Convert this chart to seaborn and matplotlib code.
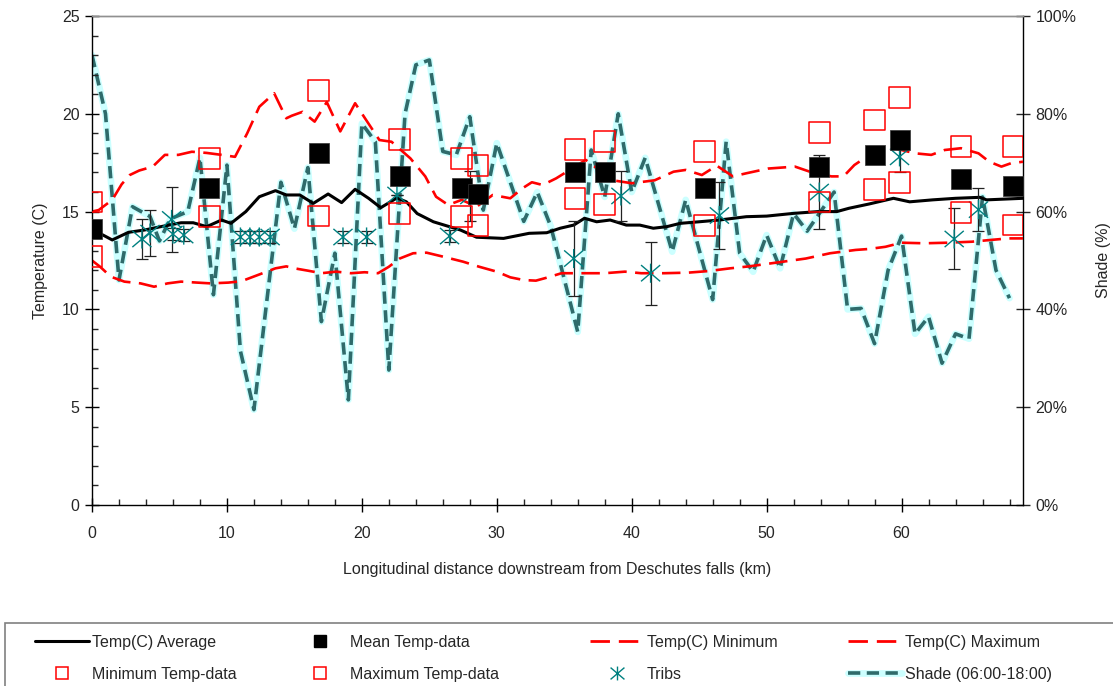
import matplotlib
matplotlib.use("Agg")
import matplotlib.pyplot as plt
import seaborn as sns
import pandas as pd
from matplotlib.ticker import MultipleLocator, PercentFormatter
from matplotlib.lines import Line2D
from matplotlib.patches import Rectangle
from matplotlib.path import Path

# Modelled daily average water temperature along the river (km, deg C)
avg_km = [0, 1.5, 2.7, 3.9, 5.1, 6.6, 7.5, 8.5, 9.6, 10.3, 11.4, 12.4, 13.6, 14.4, 15.4,
          16.4, 17.5, 18.5, 19.5, 20.5, 21.4, 22.6, 23.3, 24.1, 25.3, 27.3, 28.5, 30.5,
          32.4, 33.7, 34.7, 35.7, 36.5, 37.4, 38.4, 39.6, 40.6, 41.6, 42.6, 43.6, 45.0,
          46.5, 48.5, 50.0, 52.0, 53.8, 55.2, 56.1, 57.6, 59.4, 60.6, 62.3, 64.0, 65.8,
          66.3, 69]
avg_temp = [14.1, 13.55, 13.94, 14.06, 14.23, 14.43, 14.43, 14.23, 14.57, 14.4, 15.0,
            15.76, 16.07, 15.85, 15.85, 15.42, 15.9, 15.46, 16.14, 15.68, 15.2, 15.7,
            15.5, 14.9, 14.48, 14.06, 13.69, 13.63, 13.89, 13.92, 14.15, 14.31, 14.66,
            14.48, 14.57, 14.31, 14.31, 14.15, 14.23, 14.4, 14.48, 14.57, 14.74, 14.77,
            14.91, 15.0, 15.0, 15.17, 15.39, 15.68, 15.5, 15.6, 15.68, 15.73, 15.6, 15.68]

# Modelled daily minimum
min_km = [0, 0.6, 1.4, 2.4, 3.6, 4.6, 5.6, 6.6, 7.8, 8.8, 10.1, 10.8, 11.3, 12.3, 13.6,
          14.4, 15.0, 16.0, 17.0, 18.1, 19.2, 20.2, 21.2, 22.0, 22.8, 23.8, 24.8, 26.0,
          27.5, 28.7, 30.0, 31.0, 32.0, 32.9, 33.8, 34.8, 36.3, 38.0, 39.5, 40.7, 42.4,
          44.2, 45.7, 47.3, 48.7, 50.7, 52.9, 54.7, 56.6, 57.6, 58.8, 60.0, 61.7, 63.4,
          65.2, 66.6, 67.9, 69]
min_temp = [12.5, 12.18, 11.67, 11.42, 11.33, 11.16, 11.33, 11.42, 11.37, 11.33, 11.37,
            11.42, 11.5, 11.76, 12.1, 12.2, 12.1, 11.98, 11.85, 11.93, 11.85, 11.9,
            11.85, 12.18, 12.6, 12.87, 12.9, 12.7, 12.44, 12.18, 11.93, 11.64, 11.5,
            11.47, 11.64, 11.85, 11.85, 11.85, 11.93, 11.85, 11.85, 11.88, 11.96, 12.1,
            12.2, 12.39, 12.6, 12.87, 13.04, 13.09, 13.2, 13.41, 13.38, 13.41, 13.46,
            13.55, 13.63, 13.63]

# Modelled daily maximum
max_km = [0, 0.5, 1.5, 2.2, 2.8, 3.5, 4.5, 5.4, 6.4, 7.4, 8.5, 9.6, 10.6, 11.5, 12.4,
          13.5, 14.4, 14.8, 15.6, 16.5, 17.4, 18.4, 19.5, 20.3, 21.3, 22.2, 23.6, 24.7,
          25.5, 26.4, 27.4, 28.5, 29.7, 31.0, 31.9, 32.6, 33.4, 34.4, 36.6, 38.6, 40.0,
          41.7, 43.1, 44.0, 45.2, 46.3, 47.5, 48.5, 50.1, 52.1, 53.2, 54.8, 55.7, 56.5,
          57.4, 59.1, 61.0, 62.2, 63.2, 64.4, 65.7, 66.5, 67.4, 68.1, 69]
max_temp = [15.0, 15.08, 15.6, 16.4, 16.87, 17.1, 17.3, 17.9, 17.9, 18.06, 18.0, 17.9,
            17.8, 19.0, 20.36, 21.05, 19.77, 19.9, 20.1, 19.6, 20.6, 19.1, 20.54, 19.7,
            18.66, 18.57, 17.72, 16.8, 15.76, 15.34, 15.6, 15.25, 15.85, 15.68, 16.19,
            16.5, 16.36, 16.7, 17.64, 16.6, 16.45, 16.6, 17.04, 17.13, 16.87, 17.35,
            16.8, 16.96, 17.2, 17.3, 17.04, 16.8, 16.8, 17.38, 17.8, 18.3, 17.98, 17.9,
            18.15, 18.24, 17.98, 17.55, 17.3, 17.47, 17.55]

# Measured temperatures at logger sites
site_km = [0, 8.7, 16.8, 22.8, 27.4, 28.6, 35.8, 38.0, 45.4, 53.9, 58.0, 59.85, 64.4, 68.25]
site_mean = [14.1, 16.2, 18.0, 16.8, 16.2, 15.9, 17.0, 17.0, 16.2, 17.3, 17.9, 18.66,
             16.65, 16.33]
site_min = [12.7, 14.74, 14.77, 14.9, 14.74, 14.3, 15.68, 15.37, 14.28, 15.5, 16.14,
            16.48, 14.96, 14.31]
site_max = [15.5, 17.72, 21.2, 18.7, 17.72, 17.35, 18.18, 18.57, 18.06, 19.03, 19.68,
            20.84, 18.32, 18.32]

# Tributary inflow temperatures with their spread
trib_km = [3.7, 4.3, 5.9, 6.0, 6.8, 11.0, 11.7, 12.4, 13.2, 18.6, 20.35, 22.6, 26.5,
           28.0, 35.7, 39.2, 41.4, 46.5, 53.9, 59.85, 63.9, 65.7]
trib_temp = [13.6, 13.9, 14.6, 13.85, 13.8, 13.7, 13.7, 13.7, 13.7, 13.7, 13.7, 15.85,
             13.75, 15.8, 12.6, 15.8, 11.85, 14.8, 16.0, 17.8, 13.6, 15.1]
trib_err = [1.0, 1.16, 1.67, 0.3, 0.3, 0.3, 0.3, 0.3, 0.3, 0.3, 0.3, 0.0, 0.3, 1.27,
            1.9, 1.28, 1.62, 1.7, 1.9, 0.8, 1.56, 1.1]

# Effective shade, 06:00-18:00 (%)
shade_km = [0, 1, 2, 3, 4.3, 5, 5.8, 7.1, 8, 9, 10, 11, 12, 14, 15, 16, 17, 18, 19, 20,
            21, 22, 23.2, 24, 25, 26, 27, 28, 29, 30, 32, 33, 34, 36, 37, 38, 39, 40, 41,
            43, 44, 46, 47, 48, 49, 50, 51, 52, 53, 55, 56, 57, 58, 59, 60, 61, 62, 63,
            64, 65, 66, 67, 68]
shade_pct = [92, 80, 46, 61, 59, 54, 58.5, 60, 71, 43, 69.5, 31.5, 19.5, 66, 56.5, 69,
             37.5, 51.5, 21.5, 78, 74.3, 27.6, 80, 90, 91, 72.3, 71.6, 79.4, 60.3, 74,
             58, 64, 57, 35.4, 72.6, 63, 80, 64, 71, 51.8, 62.4, 42, 74.3, 51.5, 47.7,
             55.2, 48.4, 59.6, 56, 64, 40, 40.2, 33, 48, 55, 35, 38.5, 29, 35, 34, 63,
             48, 42.3]

sns.set_style("white")
plt.rcParams["font.family"] = ["Liberation Sans", "DejaVu Sans"]
plt.rcParams["font.size"] = 11

W, H = 1113, 686
fig = plt.figure(figsize=(W / 100, H / 100), dpi=100)
ax = fig.add_axes([92 / W, 1 - 505 / H, (1023 - 92) / W, (505 - 16) / H])
ax2 = ax.twinx()

RED = "#FF0000"
TEAL = "#008080"
SHADE_DARK = "#2F6B6B"
SHADE_LIGHT = "#CCFFFF"

red_dash = (0, (7.0, 3.2))
shade_dash = (0, (3.4, 1.8))

# Asterisk made of an X and a vertical stroke
star = Path([(-1, -0.85), (1, 0.85), (-1, 0.85), (1, -0.85), (0, -1), (0, 1)],
            [Path.MOVETO, Path.LINETO, Path.MOVETO, Path.LINETO, Path.MOVETO, Path.LINETO])

# Shade on the secondary axis (drawn underneath the temperature layer)
sns.lineplot(x=shade_km, y=shade_pct, ax=ax2, color=SHADE_LIGHT, lw=4.8,
             estimator=None, sort=False)
sns.lineplot(x=shade_km, y=shade_pct, ax=ax2, color=SHADE_DARK, lw=2.6,
             linestyle=shade_dash, estimator=None, sort=False)

# Temperature profiles
sns.lineplot(x=min_km, y=min_temp, ax=ax, color=RED, lw=1.9, linestyle=red_dash,
             estimator=None, sort=False)
sns.lineplot(x=max_km, y=max_temp, ax=ax, color=RED, lw=1.9, linestyle=red_dash,
             estimator=None, sort=False)
sns.lineplot(x=avg_km, y=avg_temp, ax=ax, color="black", lw=2.2,
             estimator=None, sort=False)

# Tributaries with error bars
ax.errorbar(trib_km, trib_temp, yerr=trib_err, fmt="none", ecolor="#222222",
            elinewidth=0.9, capsize=4, capthick=0.9, zorder=3)
sns.scatterplot(x=trib_km, y=trib_temp, ax=ax, marker=star, s=190,
                facecolor="none", edgecolor=TEAL, linewidth=1.0, zorder=4)

# Measured site data
sns.scatterplot(x=site_km, y=site_mean, ax=ax, marker="s", s=220, color="black",
                edgecolor="#333333", linewidth=0.5, zorder=5)
sns.scatterplot(x=site_km, y=site_min, ax=ax, marker="s", s=220, facecolor="none",
                edgecolor=RED, linewidth=1.1, zorder=5)
sns.scatterplot(x=site_km, y=site_max, ax=ax, marker="s", s=220, facecolor="none",
                edgecolor=RED, linewidth=1.1, zorder=5)

ax.set_zorder(ax2.get_zorder() + 1)
ax.patch.set_visible(False)

# Axes ranges and ticks
ax.set_xlim(0, 69)
ax.set_ylim(0, 25)
ax2.set_ylim(0, 100)
ax.xaxis.set_major_locator(MultipleLocator(10))
ax.xaxis.set_minor_locator(MultipleLocator(2))
ax.yaxis.set_major_locator(MultipleLocator(5))
ax.yaxis.set_minor_locator(MultipleLocator(1))
ax2.yaxis.set_major_locator(MultipleLocator(20))
ax2.yaxis.set_major_formatter(PercentFormatter(100, decimals=0))

ax.tick_params(which="major", direction="inout", length=10, width=1, pad=4,
               labelsize=11.5, color="black", left=True, bottom=True)
ax.tick_params(axis="x", which="major", pad=10)
ax.tick_params(which="minor", direction="in", length=4, width=1, left=True, bottom=True)
ax2.tick_params(axis="y", which="major", direction="inout", length=10, width=1, pad=4,
                labelsize=11.5, right=True)

for a in (ax, ax2):
    for s in a.spines.values():
        s.set_linewidth(1.0)
        s.set_color("black")
    a.spines["top"].set_color("#909090")
ax.spines["right"].set_visible(False)
ax2.spines["left"].set_visible(False)
ax2.spines["bottom"].set_visible(False)

ax.set_xlabel("Longitudinal distance downstream from Deschutes falls (km)", fontsize=11.5,
              labelpad=15)
ax.set_ylabel("Temperature (C)", fontsize=11.5, labelpad=10)
ax2.set_ylabel("Shade (%)", fontsize=11.5, labelpad=14)

# Legend: four columns inside a framed strip along the bottom
fig.patches.append(Rectangle((5 / W, -0.02), 1.2, (1 - 623 / H) + 0.02,
                             transform=fig.transFigure, fill=False,
                             edgecolor="#808080", lw=1.2))

h_avg = Line2D([], [], color="black", lw=2.2)
h_mean = Line2D([], [], color="black", marker="s", ms=8, ls="none")
h_minl = Line2D([], [], color=RED, lw=2.0, linestyle=red_dash)
h_maxl = Line2D([], [], color=RED, lw=2.0, linestyle=red_dash)
h_mind = Line2D([], [], color=RED, marker="s", ms=8, mfc="none", mew=1.1, ls="none")
h_maxd = Line2D([], [], color=RED, marker="s", ms=8, mfc="none", mew=1.1, ls="none")
h_trib = Line2D([], [], color=TEAL, marker=star, ms=10, mew=1.0, mfc="none", ls="none")
h_sh1 = Line2D([], [], color=SHADE_LIGHT, lw=4.8)
h_sh2 = Line2D([], [], color=SHADE_DARK, lw=2.6, linestyle=shade_dash)

columns = [
    (35, [(h_avg, "Temp(C) Average"), (h_mind, "Minimum Temp-data")]),
    (293, [(h_mean, "Mean Temp-data"), (h_maxd, "Maximum Temp-data")]),
    (590, [(h_minl, "Temp(C) Minimum"), (h_trib, "Tribs")]),
    (848, [(h_maxl, "Temp(C) Maximum"), ((h_sh1, h_sh2), "Shade (06:00-18:00)")]),
]
for x0, entries in columns:
    fig.legend([e[0] for e in entries], [e[1] for e in entries],
               loc="upper left", bbox_to_anchor=(x0 / W, 1 - 635 / H),
               frameon=False, fontsize=11.5, handlelength=3.4,
               handletextpad=0.15, labelspacing=1.05, borderpad=0,
               borderaxespad=0)

fig.savefig("out.png", dpi=100)
